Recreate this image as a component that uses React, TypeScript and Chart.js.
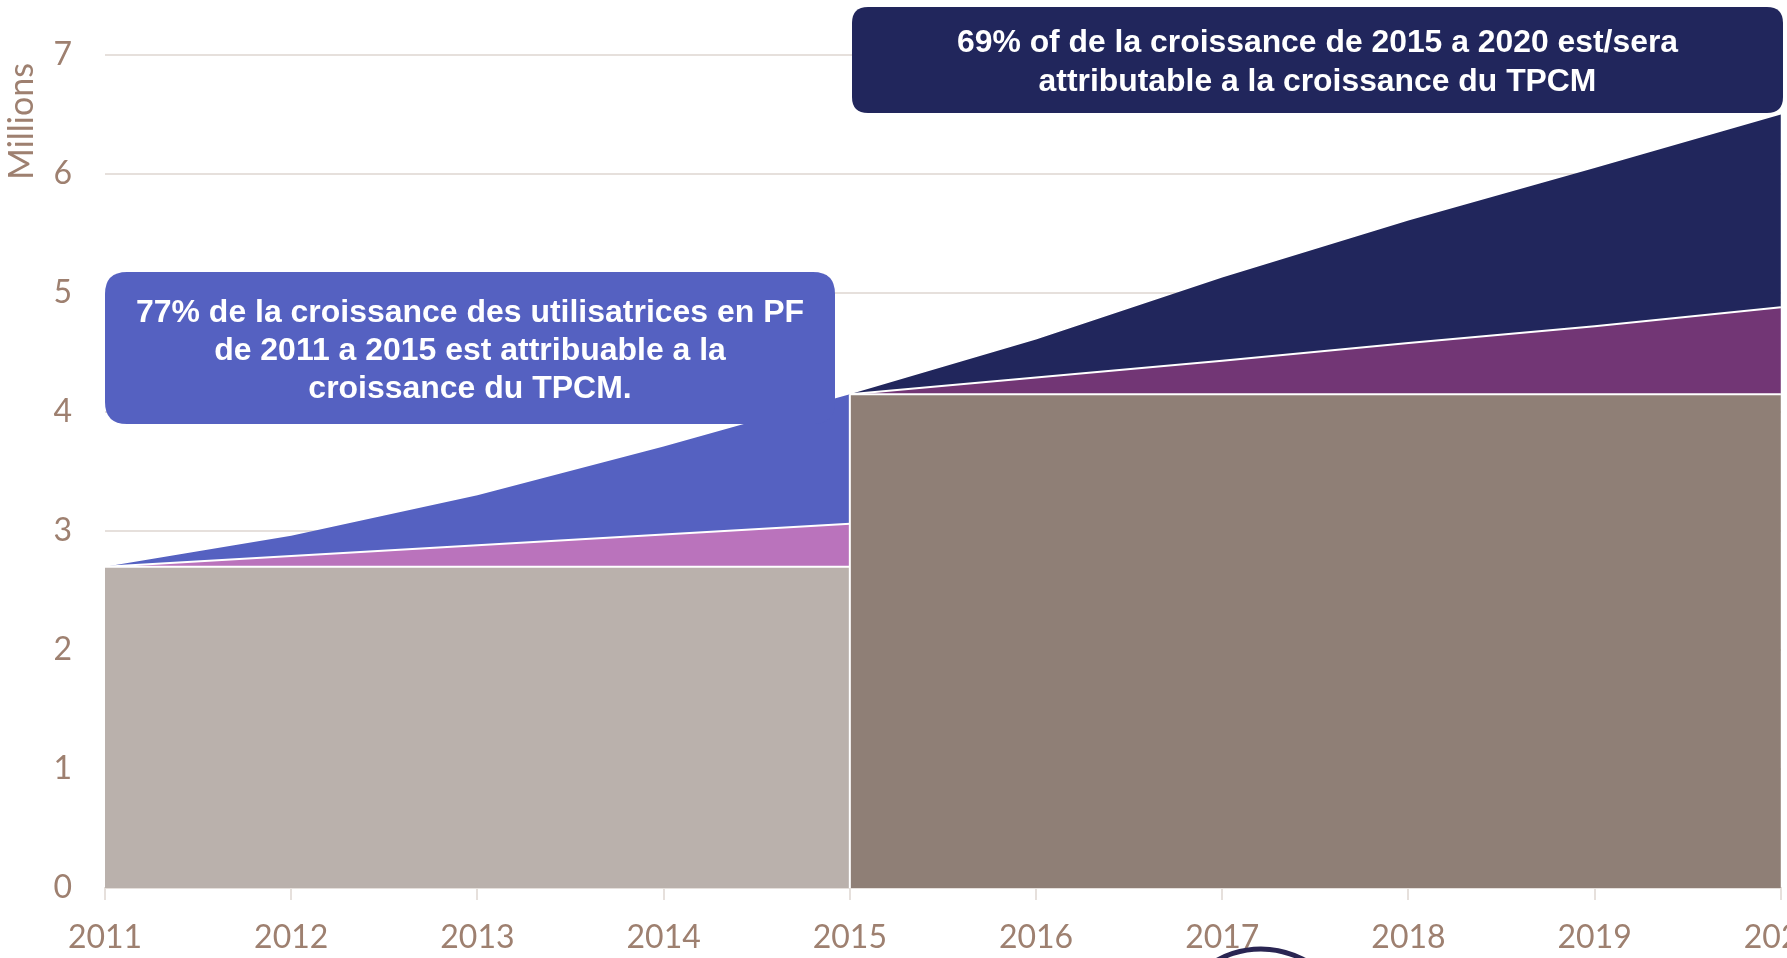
import React, { useEffect, useRef } from "react";
import { Chart, registerables } from "chart.js";

Chart.register(...registerables);

// ---- Data (millions of users) ----
const yearsLeft = [2011, 2012, 2013, 2014, 2015];
const baseLeft = [2.7, 2.7, 2.7, 2.7, 2.7];
const otherLeft = [0, 0.09, 0.18, 0.27, 0.36];
const tpcmLeft = [0, 0.17, 0.42, 0.74, 1.09];

const yearsRight = [2015, 2016, 2017, 2018, 2019, 2020];
const baseRight = [4.15, 4.15, 4.15, 4.15, 4.15, 4.15];
const otherRight = [0, 0.14, 0.28, 0.43, 0.57, 0.73];
const tpcmRight = [0, 0.32, 0.7, 1.03, 1.33, 1.62];

const xTickYears = [2011, 2012, 2013, 2014, 2015, 2016, 2017, 2018, 2019, 2020];
const yTickValues = [0, 1, 2, 3, 4, 5, 6, 7];
const yAxisTitle = "Millions";

const noteLeft = [
  "77% de la croissance des utilisatrices en PF",
  "de 2011 a 2015 est attribuable a la",
  "croissance du TPCM.",
];
const noteRight = [
  "69% of de la croissance de 2015 a 2020 est/sera",
  "attributable a la croissance du TPCM",
];

const TICK_COLOR = "#9e8070";
const GRID_COLOR = "#e6e0dc";

function cumulative(parts: number[][]): number[][] {
  const out: number[][] = [];
  let run = parts[0].map(() => 0);
  for (const p of parts) {
    run = run.map((v, i) => v + p[i]);
    out.push(run.slice());
  }
  return out;
}

function toPoints(xs: number[], ys: number[]) {
  return xs.map((x, i) => ({ x, y: ys[i] }));
}

function roundRect(ctx: CanvasRenderingContext2D, x: number, y: number, w: number, h: number, r: number) {
  ctx.beginPath();
  ctx.moveTo(x + r, y);
  ctx.lineTo(x + w - r, y);
  ctx.quadraticCurveTo(x + w, y, x + w, y + r);
  ctx.lineTo(x + w, y + h - r);
  ctx.quadraticCurveTo(x + w, y + h, x + w - r, y + h);
  ctx.lineTo(x + r, y + h);
  ctx.quadraticCurveTo(x, y + h, x, y + h - r);
  ctx.lineTo(x, y + r);
  ctx.quadraticCurveTo(x, y, x + r, y);
  ctx.closePath();
}

function drawNote(
  ctx: CanvasRenderingContext2D,
  box: { x: number; y: number; w: number; h: number; r: number; color: string },
  lines: string[],
  firstBaseline: number,
  lineGap: number,
  firstLineWidth: number
) {
  ctx.save();
  ctx.fillStyle = box.color;
  roundRect(ctx, box.x, box.y, box.w, box.h, box.r);
  ctx.fill();
  ctx.font = 'bold 31px "Liberation Sans", Arial, sans-serif';
  ctx.fillStyle = "#ffffff";
  ctx.textAlign = "center";
  ctx.textBaseline = "alphabetic";
  const measured = ctx.measureText(lines[0]).width;
  const sx = firstLineWidth / measured;
  const cx = box.x + box.w / 2;
  lines.forEach((line, i) => {
    ctx.save();
    ctx.translate(cx, firstBaseline + i * lineGap);
    ctx.scale(sx, 1);
    ctx.fillText(line, 0, 0);
    ctx.restore();
  });
  ctx.restore();
}

const notesPlugin = {
  id: "notes",
  afterDatasetsDraw(chart: any) {
    const ctx = chart.ctx as CanvasRenderingContext2D;
    drawNote(
      ctx,
      { x: 105, y: 272, w: 730, h: 152, r: 22, color: "#5561c1" },
      noteLeft,
      322,
      38,
      668
    );
    drawNote(
      ctx,
      { x: 852, y: 7, w: 931, h: 106, r: 16, color: "#21265c" },
      noteRight,
      52,
      38.5,
      721
    );
  },
  afterDraw(chart: any) {
    const ctx = chart.ctx as CanvasRenderingContext2D;
    // y-axis title, ending near the top of the plot
    ctx.save();
    ctx.fillStyle = TICK_COLOR;
    ctx.font = '34px "Lato", sans-serif';
    ctx.textAlign = "right";
    ctx.textBaseline = "alphabetic";
    ctx.translate(33, 63);
    ctx.rotate(-Math.PI / 2);
    ctx.fillText(yAxisTitle, 0, 0);
    ctx.restore();
    // cropped logo arc at the bottom of the picture
    ctx.save();
    ctx.strokeStyle = "#2a2552";
    ctx.lineWidth = 5;
    ctx.beginPath();
    ctx.arc(1261, 1040, 91, Math.PI * 1.15, Math.PI * 1.85);
    ctx.stroke();
    ctx.restore();
  },
};

export default function App() {
  const canvasRef = useRef<HTMLCanvasElement | null>(null);

  useEffect(() => {
    if (!canvasRef.current) return;
    const [lb, lo, lt] = cumulative([baseLeft, otherLeft, tpcmLeft]);
    const [rb, ro, rt] = cumulative([baseRight, otherRight, tpcmRight]);

    const common = { pointRadius: 0, tension: 0, borderColor: "#ffffff" };

    const chart = new Chart(canvasRef.current, {
      type: "line",
      data: {
        datasets: [
          { ...common, label: "Base 2011", data: toPoints(yearsLeft, lb), fill: "origin", backgroundColor: "#bab1ac", borderWidth: 2 },
          { ...common, label: "Autre croissance", data: toPoints(yearsLeft, lo), fill: "-1", backgroundColor: "#ba73bc", borderWidth: 2 },
          { ...common, label: "Croissance TPCM", data: toPoints(yearsLeft, lt), fill: "-1", backgroundColor: "#5561c1", borderWidth: 0 },
          { ...common, label: "Base 2015", data: toPoints(yearsRight, rb), fill: "origin", backgroundColor: "#8f7f76", borderWidth: 2 },
          { ...common, label: "Autre croissance 2015-2020", data: toPoints(yearsRight, ro), fill: "-1", backgroundColor: "#723675", borderWidth: 2 },
          { ...common, label: "Croissance TPCM 2015-2020", data: toPoints(yearsRight, rt), fill: "-1", backgroundColor: "#21265c", borderWidth: 0 },
          {
            ...common,
            label: "divider",
            data: [
              { x: yearsRight[0], y: 0 },
              { x: yearsRight[0], y: rb[0] },
            ],
            fill: false,
            borderWidth: 2,
            order: -1,
          },
        ] as any,
      },
      options: {
        animation: false,
        responsive: false,
        maintainAspectRatio: false,
        devicePixelRatio: 1,
        layout: { padding: { top: 55, left: 0, right: 50, bottom: 0 } },
        plugins: {
          legend: { display: false },
          tooltip: { enabled: false },
        },
        scales: {
          x: {
            type: "linear",
            min: xTickYears[0],
            max: xTickYears[xTickYears.length - 1],
            afterBuildTicks: (scale: any) => {
              scale.ticks = xTickYears.map((v) => ({ value: v }));
            },
            afterFit: (scale: any) => {
              scale.height = 70;
            },
            ticks: {
              callback: (v: any) => String(v),
              font: { family: "Lato", size: 32 },
              color: TICK_COLOR,
              padding: 18,
              maxRotation: 0,
              autoSkip: false,
            },
            grid: {
              drawOnChartArea: false,
              drawTicks: true,
              tickLength: 12,
              color: GRID_COLOR,
              lineWidth: 2,
            },
            border: { display: true, color: GRID_COLOR, width: 2 },
          },
          y: {
            min: yTickValues[0],
            max: yTickValues[yTickValues.length - 1],
            afterBuildTicks: (scale: any) => {
              scale.ticks = yTickValues.map((v) => ({ value: v }));
            },
            afterFit: (scale: any) => {
              scale.width = 105;
            },
            ticks: {
              font: { family: "Lato", size: 32 },
              color: TICK_COLOR,
              padding: 33,
            },
            grid: { color: GRID_COLOR, lineWidth: 2, drawTicks: false },
            border: { display: false },
            title: { display: false },
          },
        },
      } as any,
      plugins: [notesPlugin],
    });
    return () => chart.destroy();
  }, []);

  return (
    <div
      style={{
        position: "absolute",
        left: 0,
        top: 0,
        width: 1787,
        height: 958,
        overflow: "hidden",
        background: "#ffffff",
      }}
    >
      <canvas ref={canvasRef} width={1836} height={958} style={{ display: "block" }} />
    </div>
  );
}
